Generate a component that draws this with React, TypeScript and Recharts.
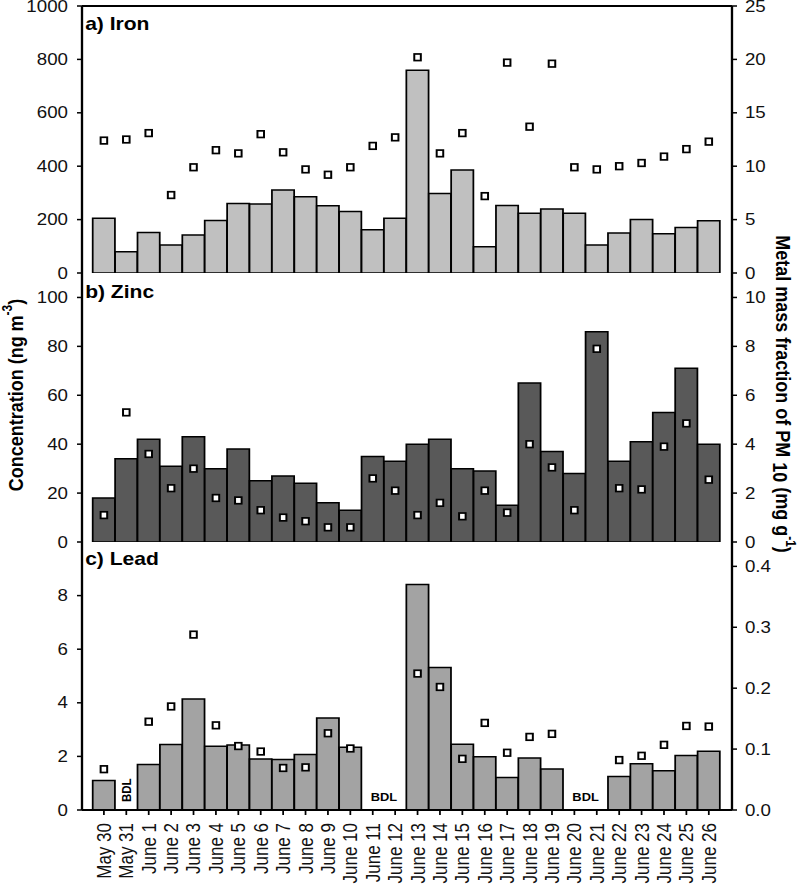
import React from 'react';
import { ComposedChart, Bar, Line, XAxis, YAxis, ReferenceLine, ReferenceArea } from 'recharts';

const dates = ['May 30', 'May 31', 'June 1', 'June 2', 'June 3', 'June 4', 'June 5', 'June 6', 'June 7', 'June 8', 'June 9', 'June 10', 'June 11', 'June 12', 'June 13', 'June 14', 'June 15', 'June 16', 'June 17', 'June 18', 'June 19', 'June 20', 'June 21', 'June 22', 'June 23', 'June 24', 'June 25', 'June 26'];

const ironConc = [205, 80, 152, 105, 142, 197, 260, 258, 311, 286, 252, 230, 162, 205, 759, 298, 386, 98, 253, 224, 240, 224, 105, 150, 200, 147, 170, 196];
const ironFrac = [12.4, 12.5, 13.1, 7.3, 9.9, 11.5, 11.2, 13.0, 11.3, 9.7, 9.2, 9.9, 11.9, 12.7, 20.2, 11.2, 13.1, 7.2, 19.7, 13.7, 19.6, 9.9, 9.7, 10.0, 10.3, 10.9, 11.6, 12.3];

const zincConc = [18, 34, 42, 31, 43, 30, 38, 25, 27, 24, 16, 13, 35, 33, 40, 42, 30, 29, 15, 65, 37, 28, 86, 33, 41, 53, 71, 40];
const zincFrac = [1.1, 5.3, 3.6, 2.2, 3.0, 1.8, 1.7, 1.3, 1.0, 0.85, 0.6, 0.6, 2.6, 2.1, 1.1, 1.6, 1.05, 2.1, 1.2, 4.0, 3.05, 1.3, 7.9, 2.2, 2.15, 3.9, 4.85, 2.55];

const leadConc = [1.1, null, 1.7, 2.44, 4.14, 2.38, 2.43, 1.9, 1.88, 2.07, 3.43, 2.34, null, null, 8.41, 5.32, 2.45, 1.99, 1.21, 1.94, 1.53, null, null, 1.25, 1.73, 1.46, 2.03, 2.19];
const leadFrac = [0.067, null, 0.145, 0.17, 0.288, 0.139, 0.105, 0.096, 0.069, 0.07, 0.126, 0.101, null, null, 0.224, 0.202, 0.084, 0.143, 0.094, 0.12, 0.125, null, null, 0.082, 0.089, 0.107, 0.138, 0.137];

const ironLeftTicks = [0, 200, 400, 600, 800, 1000];
const ironRightTicks = [0, 5, 10, 15, 20, 25];
const zincLeftTicks = [0, 20, 40, 60, 80, 100];
const zincRightTicks = [0, 2, 4, 6, 8, 10];
const leadLeftTicks = [0, 2, 4, 6, 8];
const leadRightTicks = [0, 0.1, 0.2, 0.3, 0.4];

// below-detection-limit ranges: [from, to, vertical]
const bdlRanges: [string, string, boolean][] = [
  ['May 31', 'May 31', true],
  ['June 11', 'June 12', false],
  ['June 20', 'June 21', false],
];

const S = 800 / 684;
const W = 684;
const FONT = '"Liberation Sans", Arial, sans-serif';
const MARGIN_L = 10.11;
const MARGIN_R = 8.15;

const build = (conc: (number | null)[], frac: (number | null)[]) =>
  dates.map((d, i) => ({ date: d, conc: conc[i], frac: frac[i] }));

const SquareDot = (props: any) => {
  const { cx, cy, value, index } = props;
  if (value == null || cy == null || isNaN(cy)) return <g key={`e${index}`} />;
  const w = 5.6;
  const h = 6.6;
  return (
    <rect key={`s${index}`} x={cx - w / 2} y={cy - h / 2} width={w} height={h} fill="#fff" stroke="#000" strokeWidth={1.7} />
  );
};

const XTick = (props: any) => {
  const { x, y, payload } = props;
  return (
    <text x={x} y={y} transform={`rotate(-90 ${x} ${y})`} textAnchor="end" dominantBaseline="central" fontSize={17} fill="#111" fontFamily={FONT}>
      {payload.value}
    </text>
  );
};

const bdlLabel = (vertical: boolean) => (p: any) => {
  const vb = p.viewBox || {};
  const cx = vb.x + vb.width / 2;
  const bottom = vb.y + vb.height;
  if (vertical) {
    return (
      <text x={cx} y={bottom - 8} transform={`rotate(-90 ${cx} ${bottom - 8})`} textAnchor="start" dominantBaseline="central" fontSize={11.5} fontWeight="bold" fill="#000" fontFamily={FONT}>
        BDL
      </text>
    );
  }
  return (
    <text x={cx} y={bottom - 9} textAnchor="middle" fontSize={11} fontWeight="bold" fill="#000" fontFamily={FONT}>
      BDL
    </text>
  );
};

type PanelProps = {
  top: number;
  height: number;
  mTop: number;
  mBottom: number;
  data: any[];
  fill: string;
  leftDomain: [number, number];
  leftTicks: number[];
  rightDomain: [number, number];
  rightTicks: number[];
  rightFmt?: (v: number) => string;
  showX?: boolean;
  topBorder?: number;
  bdl?: boolean;
};

const Panel = (p: PanelProps) => (
  <div style={{ position: 'absolute', left: 0, top: p.top }}>
    <ComposedChart
      width={W}
      height={p.height}
      data={p.data}
      margin={{ top: p.mTop, right: MARGIN_R, bottom: p.mBottom, left: MARGIN_L }}
      barCategoryGap={0}
      barGap={0}
    >
      {p.showX ? (
        <XAxis
          dataKey="date"
          interval={0}
          height={80}
          padding={{ left: 9.15, right: 10.25 }}
          axisLine={{ stroke: '#000', strokeWidth: 2 }}
          tickLine={{ stroke: '#000', strokeWidth: 1.5 }}
          tickSize={5}
          tickMargin={8}
          tick={<XTick />}
        />
      ) : (
        <XAxis
          dataKey="date"
          height={0}
          padding={{ left: 9.15, right: 10.25 }}
          tick={false}
          tickLine={false}
          axisLine={{ stroke: '#000', strokeWidth: 2.5 }}
        />
      )}
      <YAxis
        yAxisId="left"
        orientation="left"
        width={60}
        domain={p.leftDomain}
        ticks={p.leftTicks}
        interval={0}
        allowDataOverflow
        axisLine={{ stroke: '#000', strokeWidth: 2 }}
        tickLine={{ stroke: '#000', strokeWidth: 1.5 }}
        tickSize={4.3}
        tickMargin={7.7}
        tick={{ fill: '#111', fontSize: 16, fontFamily: FONT }}
      />
      <YAxis
        yAxisId="right"
        orientation="right"
        width={50}
        domain={p.rightDomain}
        ticks={p.rightTicks}
        interval={0}
        allowDataOverflow
        tickFormatter={p.rightFmt}
        axisLine={{ stroke: '#000', strokeWidth: 2 }}
        tickLine={{ stroke: '#000', strokeWidth: 1.5 }}
        tickSize={4.3}
        tickMargin={6.8}
        tick={{ fill: '#111', fontSize: 16, fontFamily: FONT, textAnchor: 'start' }}
      />
      {p.topBorder !== undefined && (
        <ReferenceLine yAxisId="left" y={p.topBorder} stroke="#000" strokeWidth={2} />
      )}
      {p.bdl &&
        bdlRanges.map(([a, b, v]) => (
          <ReferenceArea key={a} yAxisId="left" x1={a} x2={b} fill="none" fillOpacity={0} stroke="none" label={bdlLabel(v)} />
        ))}
      <Bar yAxisId="left" dataKey="conc" fill={p.fill} stroke="#000" strokeWidth={1.5} isAnimationActive={false} />
      <Line
        yAxisId="right"
        dataKey="frac"
        stroke="none"
        strokeWidth={0}
        dot={SquareDot}
        activeDot={false}
        legendType="none"
        connectNulls={false}
        isAnimationActive={false}
      />
    </ComposedChart>
  </div>
);

const titleStyle = { fontFamily: FONT, fontWeight: 'bold' as const, fill: '#000' };

export default function App() {
  return (
    <div style={{ position: 'absolute', left: 0, top: 0, width: 800, height: 890, background: '#fff', overflow: 'hidden' }}>
      <div style={{ position: 'absolute', left: 0, top: 0, width: W, height: 890, transform: `scaleX(${S})`, transformOrigin: '0 0' }}>
        <Panel
          top={529}
          height={361}
          mTop={13}
          mBottom={0}
          data={build(leadConc, leadFrac)}
          fill="#a3a3a3"
          leftDomain={[0, 10]}
          leftTicks={leadLeftTicks}
          rightDomain={[0, 0.44]}
          rightTicks={leadRightTicks}
          rightFmt={(v: number) => v.toFixed(1)}
          showX
          bdl
        />
        <Panel
          top={260}
          height={294}
          mTop={13}
          mBottom={12}
          data={build(zincConc, zincFrac)}
          fill="#595959"
          leftDomain={[0, 110]}
          leftTicks={zincLeftTicks}
          rightDomain={[0, 11]}
          rightTicks={zincRightTicks}
        />
        <Panel
          top={0}
          height={285}
          mTop={6}
          mBottom={12}
          data={build(ironConc, ironFrac)}
          fill="#c0c0c0"
          leftDomain={[0, 1000]}
          leftTicks={ironLeftTicks}
          rightDomain={[0, 25]}
          rightTicks={ironRightTicks}
          topBorder={1000}
        />
        <svg width={W} height={890} style={{ position: 'absolute', left: 0, top: 0, pointerEvents: 'none' }}>
          <text x={72.8} y={30} fontSize={18} {...titleStyle}>a) Iron</text>
          <text x={72.8} y={298} fontSize={18} {...titleStyle}>b) Zinc</text>
          <text x={72.8} y={565} fontSize={18} {...titleStyle}>c) Lead</text>
          <text x={13} y={395} transform="rotate(-90 13 395)" textAnchor="middle" dominantBaseline="central" fontSize={18} {...titleStyle}>
            Concentration (ng m<tspan dy={-7} fontSize={12}>-3</tspan><tspan dy={7}>)</tspan>
          </text>
          <text x={670} y={394} transform="rotate(90 670 394)" textAnchor="middle" dominantBaseline="central" fontSize={18} {...titleStyle}>
            Metal mass fraction of PM<tspan dy={3}> 10</tspan><tspan dy={-3}> (mg g</tspan><tspan dy={-7} fontSize={12}>-1</tspan><tspan dy={7}>)</tspan>
          </text>
        </svg>
      </div>
    </div>
  );
}
